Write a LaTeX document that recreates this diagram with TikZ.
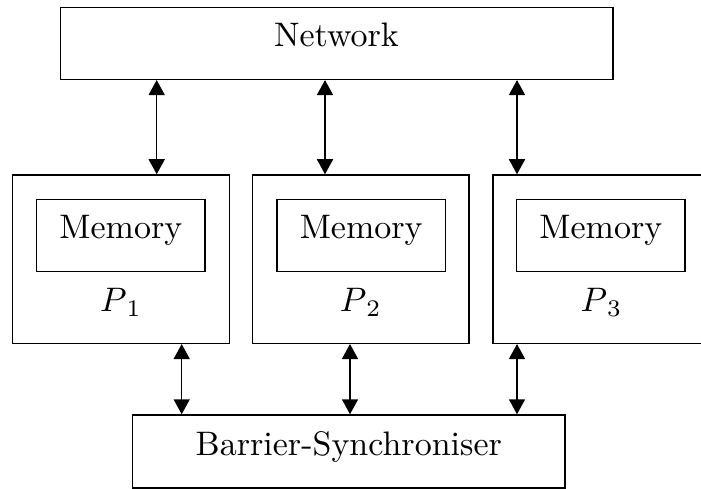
\documentclass[tikz,border=0pt]{standalone}
\usetikzlibrary{arrows.meta}
\newcommand{\bigtxt}[1]{\scalebox{3.4}{\fontsize{10}{12}\selectfont #1}}
\begin{document}
\begin{tikzpicture}[x=1pt,y=-1pt,
  box/.style={draw,line width=1.5pt,rectangle,inner sep=0pt},
  lbl/.style={anchor=base,inner sep=0pt},
  biarrow/.style={line width=1.5pt,{Triangle[length=15pt,width=16pt]}-{Triangle[length=15pt,width=16pt]}}]
\useasboundingbox (0,0) rectangle (701,489);
\clip (0,0) rectangle (701,489);
% boxes
\node[box,minimum width=552.3pt,minimum height=72pt] (net) at (336.85,43.3) {};
\node[box,minimum width=216.6pt,minimum height=168.3pt] (p1) at (121,259.15) {};
\node[box,minimum width=216.6pt,minimum height=168.3pt] (p2) at (360.85,259.15) {};
\node[box,minimum width=216.6pt,minimum height=168.3pt] (p3) at (601.5,259.15) {};
\node[box,minimum width=168.3pt,minimum height=72.4pt] (m1) at (120.85,235.5) {};
\node[box,minimum width=168.3pt,minimum height=72.4pt] (m2) at (361.2,235.5) {};
\node[box,minimum width=168.3pt,minimum height=72.4pt] (m3) at (600.85,235.5) {};
\node[box,minimum width=432.3pt,minimum height=73pt] (bar) at (348.85,451.5) {};
% labels
\node[lbl] (tnet) at (336.5,46.7) {\bigtxt{Network}};
\node[lbl] (tm1) at (120.85,238.3) {\bigtxt{Memory}};
\node[lbl] (tm2) at (361.2,238.3) {\bigtxt{Memory}};
\node[lbl] (tm3) at (600.85,238.3) {\bigtxt{Memory}};
\node[lbl] (tp1) at (121,311.7) {\bigtxt{$P_{\,1}$}};
\node[lbl] (tp2) at (360.85,311.7) {\bigtxt{$P_{\,2}$}};
\node[lbl] (tp3) at (601.5,311.7) {\bigtxt{$P_{\,3}$}};
\node[lbl] (tbar) at (348.8,455) {\bigtxt{Barrier-Synchroniser}};
% arrow columns
\coordinate (a1) at (156.7,0);
\coordinate (a2) at (325,0);
\coordinate (a3) at (517,0);
\coordinate (b1) at (181.7,0);
\coordinate (b2) at (350,0);
\coordinate (b3) at (517,0);
\draw[biarrow] (net.south -| a1) -- (p1.north -| a1);
\draw[biarrow] (net.south -| a2) -- (p2.north -| a2);
\draw[biarrow] (net.south -| a3) -- (p3.north -| a3);
\draw[biarrow] (p1.south -| b1) -- (bar.north -| b1);
\draw[biarrow] (p2.south -| b2) -- (bar.north -| b2);
\draw[biarrow] (p3.south -| b3) -- (bar.north -| b3);
\end{tikzpicture}
\end{document}
